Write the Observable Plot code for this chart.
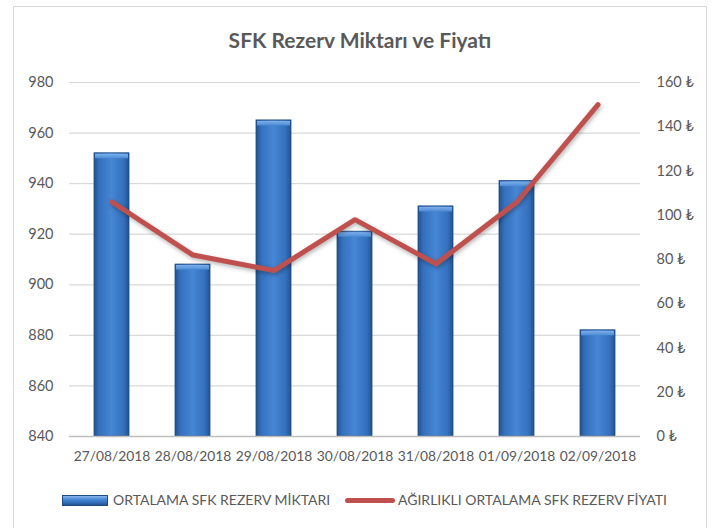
<!DOCTYPE html>
<html>
<head>
<meta charset="utf-8">
<script src="https://cdn.jsdelivr.net/npm/d3@7"></script>
<script src="https://cdn.jsdelivr.net/npm/@observablehq/plot@0.6"></script>
<style>
  html, body { margin: 0; padding: 0; background: #fff; }
  body { width: 726px; height: 528px; position: relative; overflow: hidden; font-family: Lato, "Open Sans", sans-serif; color: #595959; }
  #frame { position: absolute; left: 13px; top: 6px; width: 694px; height: 540px; border: 1.5px solid #d9d9d9; box-sizing: border-box; }
  #title { position: absolute; left: 0; width: 720px; top: 27px; text-align: center; font-weight: bold; font-size: 21px; color: #595959; }
  #chart { position: absolute; left: 0; top: 60px; }
  .legend { position: absolute; top: 491px; font-size: 14px; color: #595959; white-space: nowrap; }
  .sw-bar { position: absolute; left: 62px; top: 495px; width: 46px; height: 11px; box-sizing: border-box; border: 1px solid #1f4a80;
            background: linear-gradient(to bottom, #8bb8ee 0%, #4a8ad6 35%, #3470bd 70%, #23528f 100%); }
  .sw-line { position: absolute; left: 345px; top: 498px; width: 50px; height: 5px; border-radius: 3px; background: #c0504d; }
  .priceLine { filter: drop-shadow(1px 2px 2px rgba(0,0,0,0.3)); }
</style>
</head>
<body>
<div id="frame"></div>
<div id="title">SFK Rezerv Miktarı ve Fiyatı</div>
<div id="chart"></div>
<div class="sw-bar"></div>
<div class="legend" style="left:113px">ORTALAMA SFK REZERV MİKTARI</div>
<div class="sw-line"></div>
<div class="legend" style="left:398px">AĞIRLIKLI ORTALAMA SFK REZERV FİYATI</div>
<script>
const dates = ["27/08/2018", "28/08/2018", "29/08/2018", "30/08/2018", "31/08/2018", "01/09/2018", "02/09/2018"];
const reserve = [952, 908, 965, 921, 931, 941, 882];
const price = [106, 82, 75, 98, 78, 106, 150];
const leftTicks = [840, 860, 880, 900, 920, 940, 960, 980];
const rightTicks = [0, 20, 40, 60, 80, 100, 120, 140, 160];

const data = dates.map((d, i) => ({date: d, reserve: reserve[i], price: price[i]}));
const L0 = 840, L1 = 980, R0 = 0, R1 = 160;
const toLeft = v => L0 + (v - R0) * (L1 - L0) / (R1 - R0);
const toRight = t => Math.round(R0 + (t - L0) * (R1 - R0) / (L1 - L0));

const svg = Plot.plot({
  width: 726,
  height: 420,
  marginLeft: 69,
  marginRight: 86,
  marginTop: 22,
  marginBottom: 44,
  style: {fontFamily: "Lato, 'Open Sans', sans-serif", fontSize: "14.5px", color: "#595959", background: "transparent"},
  x: {domain: dates, paddingInner: 0.57, paddingOuter: 0.285, label: null},
  y: {domain: [L0, L1], label: null},
  marks: [
    Plot.gridY(leftTicks, {stroke: "#d9d9d9", strokeOpacity: 1, strokeWidth: 1.2}),
    Plot.barY(data, {x: "date", y1: L0, y2: "reserve", fill: "url(#barGrad)", stroke: "#1f4a80", strokeWidth: 0.8}),
    Plot.barY(data, {x: "date", y1: d => d.reserve - 2.6, y2: "reserve", fill: "url(#topGrad)", inset: 1}),
    Plot.ruleY([L0], {stroke: "#bfbfbf", strokeWidth: 1.5}),
    Plot.lineY(data, {x: "date", y: d => toLeft(d.price), stroke: "#c0504d", strokeWidth: 5, strokeLinecap: "round", strokeLinejoin: "round", className: "priceLine"}),
    Plot.axisY(leftTicks, {anchor: "left", tickSize: 0, tickPadding: 16, label: null}),
    Plot.axisY(rightTicks.map(toLeft), {anchor: "right", tickSize: 0, tickPadding: 16, textAnchor: "start", tickFormat: t => toRight(t) + " ₺", label: null}),
    Plot.axisX({tickSize: 0, tickPadding: 15, fontSize: 13.8, label: null})
  ]
});

const ns = "http://www.w3.org/2000/svg";
const defs = document.createElementNS(ns, "defs");
defs.innerHTML = `
  <linearGradient id="barGrad" x1="0" x2="1" y1="0" y2="0">
    <stop offset="0" stop-color="#23528f"/>
    <stop offset="0.15" stop-color="#3470bd"/>
    <stop offset="0.5" stop-color="#4686d4"/>
    <stop offset="0.85" stop-color="#3470bd"/>
    <stop offset="1" stop-color="#23528f"/>
  </linearGradient>
  <linearGradient id="topGrad" x1="0" x2="0" y1="0" y2="1">
    <stop offset="0" stop-color="#7fb0ea"/>
    <stop offset="1" stop-color="#4a8ad6"/>
  </linearGradient>`;
svg.insertBefore(defs, svg.firstChild);
document.getElementById("chart").appendChild(svg);
</script>
</body>
</html>
